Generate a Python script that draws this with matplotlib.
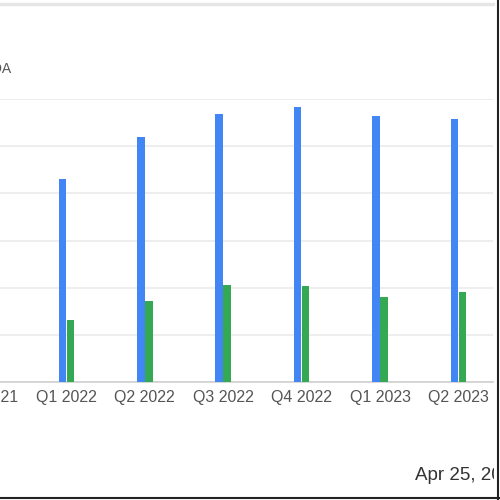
import matplotlib
matplotlib.use("Agg")
import matplotlib.pyplot as plt
from matplotlib.lines import Line2D
from matplotlib.patches import Rectangle

plt.rcParams['font.family'] = ['Liberation Sans', 'DejaVu Sans']

# quarters shown on the x axis (Q4 2021 is cut off at the left edge)
quarters = ["Q4 2021", "Q1 2022", "Q2 2022", "Q3 2022", "Q4 2022", "Q1 2023", "Q2 2023"]
revenue = [4.30, 5.19, 5.68, 5.83, 5.64, 5.57]
ebitda = [1.32, 1.72, 2.06, 2.04, 1.81, 1.91]
bar_pos = [1, 2, 3, 4, 5, 6]

fig = plt.figure(figsize=(5, 5), dpi=100)
# axes runs past the left edge, like the cropped screenshot
ax = fig.add_axes([-0.08, 1 - 382 / 500, 533 / 500, 283 / 500])

w = 0.095
off = 0.051
ax.bar([p - off for p in bar_pos], revenue, width=w, color="#4285F4", zorder=3)
ax.bar([p + off for p in bar_pos], ebitda, width=w, color="#34A853", zorder=3)

ax.set_xlim(-0.357, 6.441)
ax.set_ylim(0, 6)
ax.set_yticks(range(0, 7))
ax.set_yticklabels([])
ax.set_xticks(range(len(quarters)))
ax.set_xticklabels(quarters, fontsize=11.5, color="#555555")
ax.tick_params(axis="both", length=0, pad=6)
ax.grid(axis="y", color="#ebebeb", linewidth=1.2, zorder=0)
for s in ["top", "right", "left"]:
    ax.spines[s].set_visible(False)
ax.spines["bottom"].set_color("#cfcfcf")
ax.spines["bottom"].set_linewidth(1.2)

# axis title, mostly cut off at the left edge
fig.text(12 / 500, 1 - 69 / 500, "EBITDA", ha="right", va="center",
         fontsize=10, color="#555555")

# date stamp at the bottom right
fig.text(415 / 500, 1 - 476 / 500, "Apr 25, 2023", ha="left", va="center",
         fontsize=13.5, color="#333333")

# screenshot frame
fig.patches.append(Rectangle((494 / 500, 0), 6 / 500, 1, transform=fig.transFigure,
                             facecolor="white", edgecolor="none", zorder=5))
fig.lines.append(Line2D([0, 493 / 500], [1 - 4 / 500] * 2, transform=fig.transFigure,
                        color="#e6e6e6", linewidth=2.5, zorder=6))
fig.lines.append(Line2D([497.5 / 500] * 2, [0, 1], transform=fig.transFigure,
                        color="#222222", linewidth=1.5, zorder=6))
fig.lines.append(Line2D([0, 1], [1 - 497.5 / 500] * 2, transform=fig.transFigure,
                        color="#222222", linewidth=1.5, zorder=6))

fig.savefig("out.png", dpi=100)
